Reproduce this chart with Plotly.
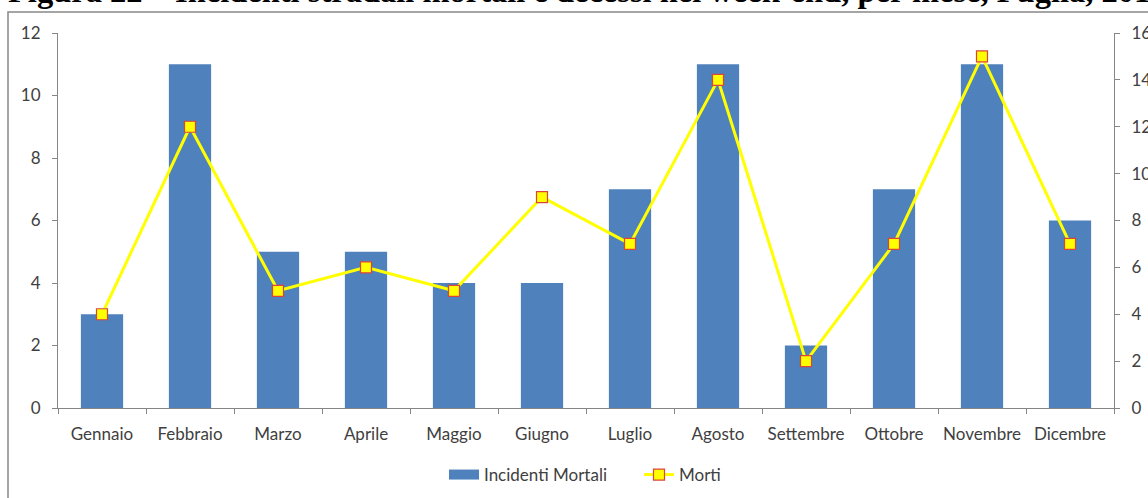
import plotly.graph_objects as go

months = ["Gennaio", "Febbraio", "Marzo", "Aprile", "Maggio", "Giugno", "Luglio",
          "Agosto", "Settembre", "Ottobre", "Novembre", "Dicembre"]
incidenti = [3, 11, 5, 5, 4, 4, 7, 11, 2, 7, 11, 6]
morti = [4, 12, 5, 6, 5, 9, 7, 14, 2, 7, 15, 7]
title_text = "Figura 22 – Incidenti stradali mortali e decessi nel week-end, per mese, Puglia, 2016"

W, H = 1148, 498
L, R, T, B = 58, 34, 33, 90
pw, ph = W - L - R, H - T - B

def px_x(x):
    return (x - L) / pw

def px_y(y):
    return (H - B - y) / ph

FONT = "Lato"
FS = 17
axis_col = "#868686"
text_col = "#404040"
bar_col = "#4F81BD"

fig = go.Figure()
fig.add_trace(go.Bar(x=months, y=incidenti, name="Incidenti Mortali", showlegend=False,
                     marker=dict(color=bar_col, line=dict(width=0)), yaxis="y"))
# legend entry drawn as a wide block like the original legend key
fig.add_trace(go.Scatter(x=[None], y=[None], name="Incidenti Mortali", mode="lines",
                         line=dict(color=bar_col, width=13), yaxis="y"))
fig.add_trace(go.Scatter(x=months, y=morti, name="Morti", mode="lines+markers",
                         line=dict(color="#FFFF00", width=3),
                         marker=dict(symbol="square", size=11, color="#FFFF00",
                                     line=dict(color="#D9453B", width=1.2)),
                         yaxis="y2"))

axis_common = dict(showline=True, linecolor=axis_col, linewidth=1, ticks="outside",
                   ticklen=5, tickcolor=axis_col, showgrid=False, automargin=False,
                   tickfont=dict(size=FS, color=text_col, family=FONT))

fig.update_layout(
    width=W, height=H,
    margin=dict(l=L, r=R, t=T, b=B, autoexpand=False),
    paper_bgcolor="white", plot_bgcolor="white",
    font=dict(family=FONT, size=FS, color=text_col),
    bargap=0.52,
    showlegend=True,
    legend=dict(orientation="h", x=px_x(444), xanchor="left", y=px_y(475), yanchor="middle",
                font=dict(size=FS, family=FONT, color=text_col), tracegroupgap=0,
                entrywidth=150, entrywidthmode="pixels",
                bgcolor="rgba(0,0,0,0)"),
    xaxis=dict(range=[-0.5, 11.5], tickson="boundaries", tickangle=0, ticklabelstandoff=11,
               **axis_common),
    yaxis=dict(range=[0, 12], dtick=2, zeroline=False, ticklabelstandoff=8, **axis_common),
    yaxis2=dict(range=[0, 16], dtick=2, overlaying="y", side="right", zeroline=False,
                ticklabelstandoff=8, **axis_common),
    shapes=[dict(type="rect", xref="paper", yref="paper",
                 x0=px_x(8), x1=px_x(1160), y0=px_y(12), y1=px_y(510),
                 line=dict(color="#888888", width=1.5), fillcolor="rgba(0,0,0,0)", layer="below")],
    annotations=[dict(text="<b>" + title_text + "</b>", xref="paper", yref="paper",
                      x=px_x(6), y=px_y(12), xanchor="left", yanchor="bottom", yshift=1,
                      showarrow=False,
                      font=dict(family="Liberation Serif", size=32.5, color="black"))],
)

fig.write_html("out.html", config={"displayModeBar": False},
               post_script="document.body.style.margin='0';document.body.style.overflow='hidden';")
